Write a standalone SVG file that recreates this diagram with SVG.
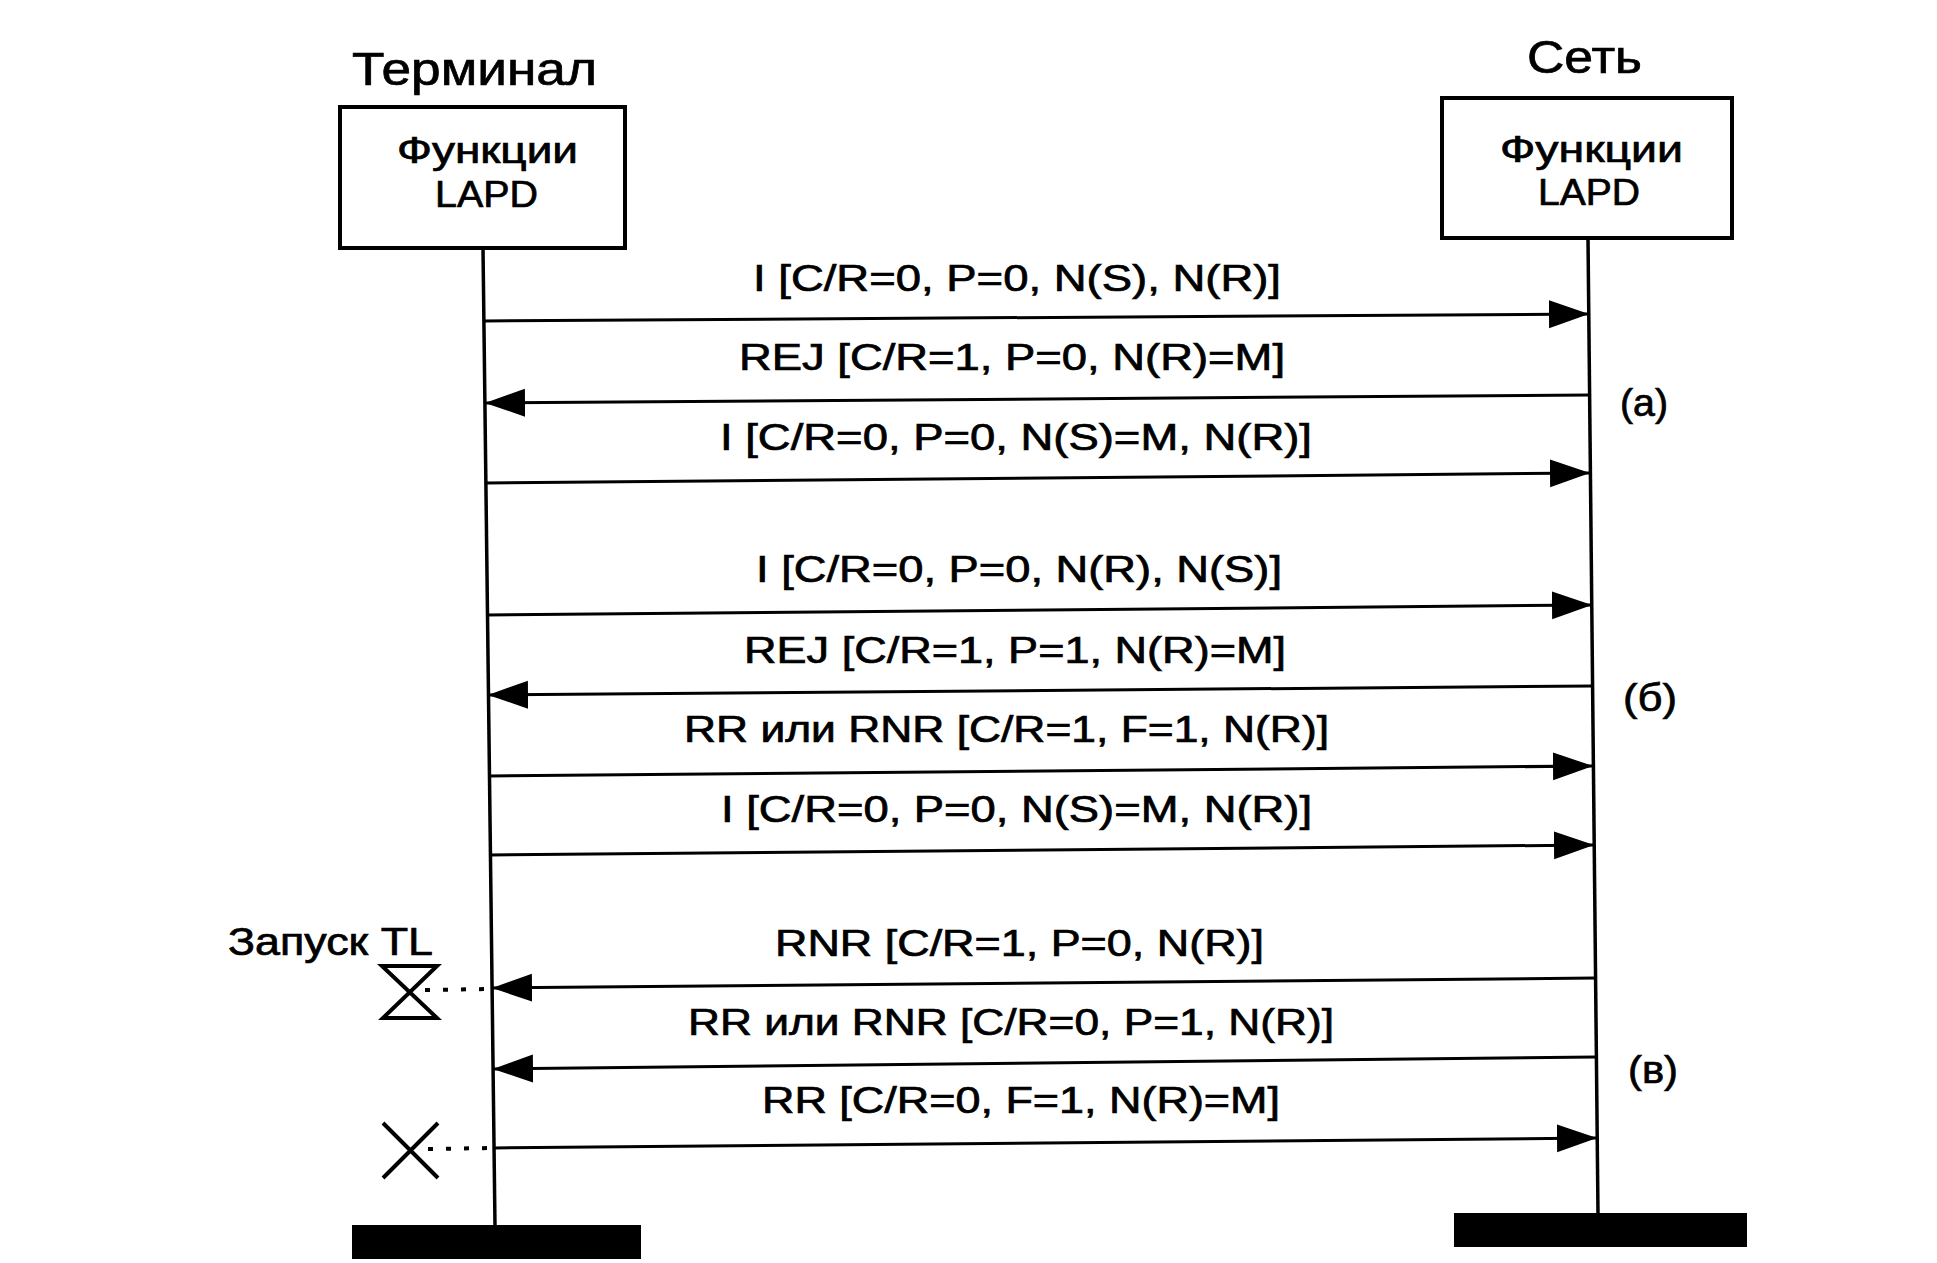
<svg xmlns="http://www.w3.org/2000/svg" width="1937" height="1263" viewBox="0 0 1937 1263">
<defs>
<style>
text{font-family:"Liberation Sans",Arial,sans-serif;fill:#000;stroke:#000;stroke-width:0.7}
.title{font-size:46px}
.box{fill:#fff;stroke:#000;stroke-width:4}
.boxt{font-size:36px}
.lbl{font-size:36px}
.par{font-size:38px}
.life{stroke:#000;stroke-width:3.5;fill:none}
.msg{stroke:#000;stroke-width:3;fill:none;marker-end:url(#ah)}
.dot{stroke:#000;stroke-width:4;stroke-dasharray:5 13;fill:none}
.sym{stroke:#000;stroke-width:4;fill:none}
.bar{fill:#000}
</style>
<marker id="ah" markerUnits="userSpaceOnUse" markerWidth="42" markerHeight="30" refX="40" refY="14" orient="auto">
<path d="M0,0 L40,14 L0,28 z" fill="#000"/>
</marker>
</defs>
<rect width="1937" height="1263" fill="#fff"/>

<g id="terminal">
<text class="title" x="352" y="85" textLength="245" lengthAdjust="spacingAndGlyphs">Терминал</text>
<rect class="box" x="340" y="107" width="285" height="141"/>
<text class="boxt" x="397" y="163" textLength="181" lengthAdjust="spacingAndGlyphs">Функции</text>
<text class="boxt" x="435" y="207" textLength="103" lengthAdjust="spacingAndGlyphs">LAPD</text>
<line class="life" x1="483" y1="248" x2="495" y2="1226"/>
<rect class="bar" x="352" y="1225" width="289" height="34"/>
</g>

<g id="network">
<text class="title" x="1527" y="73" textLength="115" lengthAdjust="spacingAndGlyphs">Сеть</text>
<rect class="box" x="1442" y="98" width="290" height="140"/>
<text class="boxt" x="1500" y="162" textLength="183" lengthAdjust="spacingAndGlyphs">Функции</text>
<text class="boxt" x="1538" y="205" textLength="102" lengthAdjust="spacingAndGlyphs">LAPD</text>
<line class="life" x1="1588" y1="238" x2="1598" y2="1214"/>
<rect class="bar" x="1454" y="1213" width="293" height="34"/>
</g>

<g id="timer">
<text class="lbl" x="228" y="955" style="font-size:38px" textLength="205" lengthAdjust="spacingAndGlyphs">Запуск TL</text>
<path class="sym" d="M382,966 L437,966 L383,1018 L437,1018 Z"/>
<line class="dot" x1="425" y1="990" x2="490" y2="989"/>
<path class="sym" d="M383,1123 L438,1178 M438,1123 L383,1178"/>
<line class="dot" x1="428" y1="1149" x2="492" y2="1148"/>
</g>

<g id="groups">
<text class="par" x="1620" y="416" textLength="48" lengthAdjust="spacingAndGlyphs">(а)</text>
<text class="par" x="1623" y="711" textLength="54" lengthAdjust="spacingAndGlyphs">(б)</text>
<text class="par" x="1628" y="1083" textLength="50" lengthAdjust="spacingAndGlyphs">(в)</text>
</g>

<g id="connectors">
<line class="msg" x1="484" y1="321" x2="1589" y2="314"/>
<line class="msg" x1="1590" y1="395" x2="485" y2="403"/>
<line class="msg" x1="486" y1="483" x2="1590" y2="473"/>
<line class="msg" x1="487" y1="615" x2="1592" y2="605"/>
<line class="msg" x1="1593" y1="686" x2="488" y2="695"/>
<line class="msg" x1="489" y1="776" x2="1593" y2="766"/>
<line class="msg" x1="490" y1="855" x2="1594" y2="845"/>
<line class="msg" x1="1596" y1="978" x2="492" y2="988"/>
<line class="msg" x1="1596" y1="1057" x2="493" y2="1069"/>
<line class="msg" x1="494" y1="1148" x2="1597" y2="1138"/>
</g>

<g id="labels">
<text class="lbl" x="753" y="291" textLength="528" lengthAdjust="spacingAndGlyphs">I [C/R=0, P=0, N(S), N(R)]</text>
<text class="lbl" x="739" y="370" textLength="546" lengthAdjust="spacingAndGlyphs">REJ [C/R=1, P=0, N(R)=M]</text>
<text class="lbl" x="720" y="450" textLength="592" lengthAdjust="spacingAndGlyphs">I [C/R=0, P=0, N(S)=M, N(R)]</text>
<text class="lbl" x="756" y="582" textLength="526" lengthAdjust="spacingAndGlyphs">I [C/R=0, P=0, N(R), N(S)]</text>
<text class="lbl" x="744" y="663" textLength="542" lengthAdjust="spacingAndGlyphs">REJ [C/R=1, P=1, N(R)=M]</text>
<text class="lbl" x="684" y="742" textLength="645" lengthAdjust="spacingAndGlyphs">RR или RNR [C/R=1, F=1, N(R)]</text>
<text class="lbl" x="721" y="822" textLength="591" lengthAdjust="spacingAndGlyphs">I [C/R=0, P=0, N(S)=M, N(R)]</text>
<text class="lbl" x="775" y="956" textLength="489" lengthAdjust="spacingAndGlyphs">RNR [C/R=1, P=0, N(R)]</text>
<text class="lbl" x="688" y="1035" textLength="646" lengthAdjust="spacingAndGlyphs">RR или RNR [C/R=0, P=1, N(R)]</text>
<text class="lbl" x="762" y="1113" textLength="518" lengthAdjust="spacingAndGlyphs">RR [C/R=0, F=1, N(R)=M]</text>
</g>
</svg>
